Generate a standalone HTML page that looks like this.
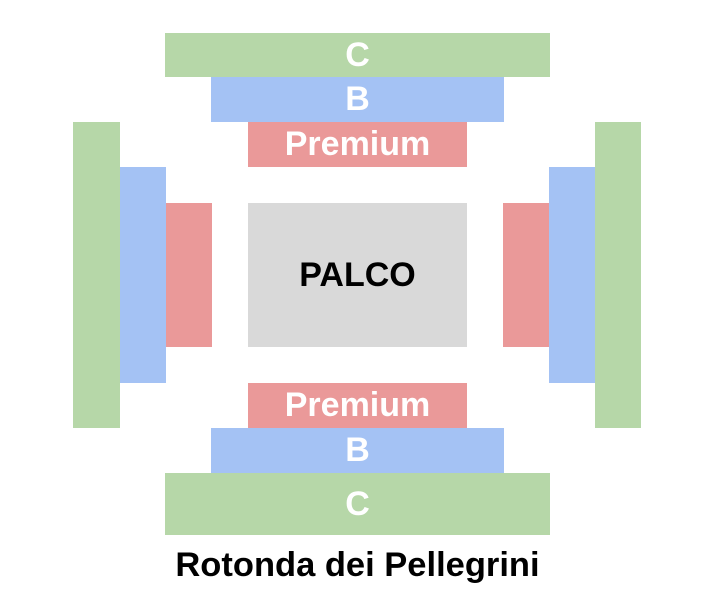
<!DOCTYPE html>
<html><head><meta charset="utf-8"><style>
body{margin:0;width:715px;height:594px;background:#fff;position:relative;overflow:hidden;font-family:"Liberation Sans",Arial,sans-serif;}
.r{position:absolute;display:flex;align-items:center;justify-content:center;color:#fff;font-weight:bold;font-size:34px;}
.g{background:#b6d7a8}.b{background:#a4c2f4}.p{background:#ea9999}
</style></head><body>
<div class="r g" style="left:165px;top:33px;width:385px;height:44px">C</div>
<div class="r b" style="left:211px;top:77px;width:293px;height:45px">B</div>
<div class="r p" style="left:248px;top:122px;width:219px;height:45px">Premium</div>
<div class="r g" style="left:73px;top:122px;width:47px;height:306px"></div>
<div class="r b" style="left:120px;top:167px;width:46px;height:216px"></div>
<div class="r p" style="left:166px;top:203px;width:46px;height:144px"></div>
<div class="r" style="left:248px;top:203px;width:219px;height:144px;background:#d9d9d9;color:#000">PALCO</div>
<div class="r p" style="left:503px;top:203px;width:46px;height:144px"></div>
<div class="r b" style="left:549px;top:167px;width:46px;height:216px"></div>
<div class="r g" style="left:595px;top:122px;width:46px;height:306px"></div>
<div class="r p" style="left:248px;top:383px;width:219px;height:45px">Premium</div>
<div class="r b" style="left:211px;top:428px;width:293px;height:45px">B</div>
<div class="r g" style="left:165px;top:473px;width:385px;height:62px">C</div>
<div style="position:absolute;left:0;width:715px;top:546px;text-align:center;font-weight:bold;font-size:34.5px;color:#000">Rotonda dei Pellegrini</div>
</body></html>
